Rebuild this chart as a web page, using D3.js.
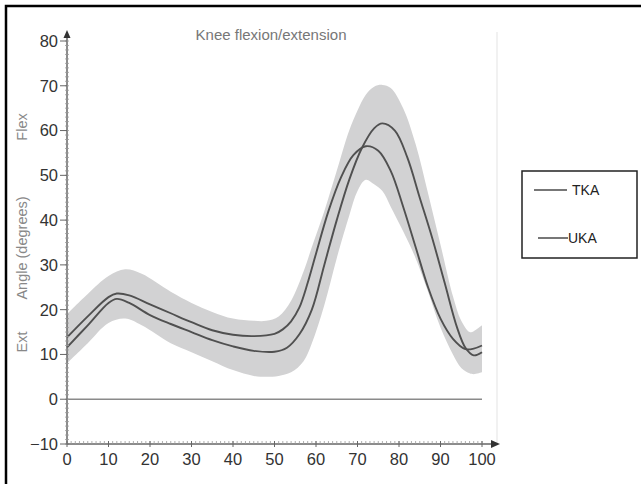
<!DOCTYPE html>
<html><head><meta charset="utf-8">
<script src="https://cdn.jsdelivr.net/npm/d3@7"></script>
<style>body{margin:0;background:#fff}svg{display:block}text{font-family:"Liberation Sans",Arial,sans-serif}</style>
</head><body>
<svg id="c" width="641" height="484"></svg>
<script>
// Data (gait cycle %, knee angle in degrees)
const tkaX = [0,5,10,12,15,20,25,30,35,40,45,50,52,54,56,58,60,63,66,69,72,75,78,81,84,87,90,93,96,98,100];
const tkaY = [13.8,18.5,22.8,23.6,23.2,21.2,19.2,17.2,15.4,14.4,14.1,14.6,15.6,17.4,20.5,26,32.5,42,49.5,54.5,56.5,55.5,51,43,34,25,18,13.5,11.2,11.3,12];
const ukaX = [0,5,10,12,15,20,25,30,35,40,45,50,53,56,59,62,65,68,71,74,76,79,82,85,88,91,94,96,98,100];
const ukaY = [11.6,16.5,21.5,22.4,21.5,18.8,16.8,15,13.2,11.8,10.8,10.6,11.5,14.5,20,30,40,49,56,60.5,61.6,60,54,45,36,26,16,11.5,9.8,10.5];
const bandX = [0,5,10,14,18,25,30,35,40,45,48,51,54,57,59,62,65,68,70,72,74,76,78,81,84,87,90,93,95,97,98,100];
const bandHi = [19,23.5,27.5,29,28,24,21.5,19.5,18,17.5,17.5,18.5,22,28.5,34,42,51,60,64.5,68,69.8,70.2,69.5,65,57,46,34.5,23,17.5,15,15.2,16.5];
const bandLo = [8,12.5,17,18,16.5,12.5,10.5,8.5,6.5,5.2,5,5.2,6,8.5,12.5,21,31.5,41,46.5,49,48,46.5,43,37.5,31.5,24,16,10,7,5.8,5.6,6];
const xTicks = [0,10,20,30,40,50,60,70,80,90,100];
const yTicks = [-10,0,10,20,30,40,50,60,70,80];
const seriesNames = ["TKA","UKA"];
const title = "Knee flexion/extension";

const svg = d3.select("#c");
const x = d3.scaleLinear().domain([0,100]).range([67,482]);
const y = d3.scaleLinear().domain([-10,80]).range([444,41]);

// outer frame
svg.append("path").attr("d","M6,490 V6 H650").attr("fill","none").attr("stroke","#000").attr("stroke-width",2.5);
// faint plot right edge
svg.append("line").attr("x1",497).attr("x2",497).attr("y1",32).attr("y2",444).attr("stroke","#ececec").attr("stroke-width",1.5);

// band
const bandData = bandX.map((d,i)=>({x:d,hi:bandHi[i],lo:bandLo[i]}));
svg.append("path").datum(bandData)
  .attr("d", d3.area().x(d=>x(d.x)).y0(d=>y(d.lo)).y1(d=>y(d.hi)).curve(d3.curveCatmullRom))
  .attr("fill","#d2d2d3");

// zero line
svg.append("line").attr("x1",x(0)).attr("x2",x(100)).attr("y1",y(0)).attr("y2",y(0)).attr("stroke","#8a8a8a").attr("stroke-width",1.6);

// curves
const line = d3.line().x(d=>x(d[0])).y(d=>y(d[1])).curve(d3.curveCatmullRom);
[[tkaX,tkaY],[ukaX,ukaY]].forEach(([xs,ys])=>{
  svg.append("path").datum(xs.map((d,i)=>[d,ys[i]])).attr("d",line)
    .attr("fill","none").attr("stroke","#505050").attr("stroke-width",1.9);
});

// axes
const axCol = "#666";
const yMinor = d3.range(-10,81,1);
const xMinor = d3.range(0,101,1);
const gy = svg.append("g");
gy.append("line").attr("x1",67).attr("x2",67).attr("y1",y(-10)).attr("y2",36).attr("stroke",axCol).attr("stroke-width",1.5);
gy.selectAll(".ym").data(yMinor).join("line").attr("x1",65).attr("x2",69).attr("y1",d=>y(d)).attr("y2",d=>y(d)).attr("stroke","#999").attr("stroke-width",0.8);
gy.selectAll(".yM").data(yTicks).join("line").attr("x1",60).attr("x2",67).attr("y1",d=>y(d)).attr("y2",d=>y(d)).attr("stroke",axCol).attr("stroke-width",1);
gy.selectAll(".yl").data(yTicks).join("text").attr("x",58).attr("y",d=>y(d)).attr("dy","0.36em").attr("text-anchor","end")
  .attr("font-size",16.5).attr("fill","#333").text(d=>d<0?"\u2212"+Math.abs(d):d);
svg.append("path").attr("d","M67,30 L63.5,38 L70.5,38 Z").attr("fill","#333");

const gx = svg.append("g");
gx.append("line").attr("x1",67).attr("x2",492).attr("y1",444).attr("y2",444).attr("stroke",axCol).attr("stroke-width",1.5);
gx.selectAll(".xm").data(xMinor).join("line").attr("x1",d=>x(d)).attr("x2",d=>x(d)).attr("y1",441).attr("y2",444).attr("stroke","#999").attr("stroke-width",0.8);
gx.selectAll(".xM").data(xTicks).join("line").attr("x1",d=>x(d)).attr("x2",d=>x(d)).attr("y1",441).attr("y2",447).attr("stroke",axCol).attr("stroke-width",1);
gx.selectAll(".xl").data(xTicks).join("text").attr("x",d=>x(d)).attr("y",465).attr("text-anchor","middle")
  .attr("font-size",16.5).attr("fill","#333").text(d=>d);
svg.append("path").attr("d","M500,444 L491,440 L491,448 Z").attr("fill","#333");

// title
svg.append("text").attr("x",271).attr("y",40).attr("text-anchor","middle").attr("font-size",15).attr("fill","#777").text(title);

// y labels
const ylab = [["Flex",127],["Angle (degrees)",248],["Ext",342]];
ylab.forEach(([t,cy])=>{
  svg.append("text").attr("transform",`translate(27,${cy}) rotate(-90)`).attr("text-anchor","middle")
    .attr("font-size",14.5).attr("fill","#888").text(t);
});

// legend
svg.append("rect").attr("x",522).attr("y",171).attr("width",115).attr("height",87).attr("fill","#fff").attr("stroke","#222").attr("stroke-width",1.5);
const lg = [[534,567,190,572],[538,568,238,568]];
seriesNames.forEach((n,i)=>{
  const [a,b,ly,tx]=lg[i];
  svg.append("line").attr("x1",a).attr("x2",b).attr("y1",ly).attr("y2",ly).attr("stroke","#777").attr("stroke-width",2);
  svg.append("text").attr("x",tx).attr("y",ly).attr("dy","0.36em").attr("font-size",14).attr("fill","#222").text(n);
});
</script>
</body></html>
